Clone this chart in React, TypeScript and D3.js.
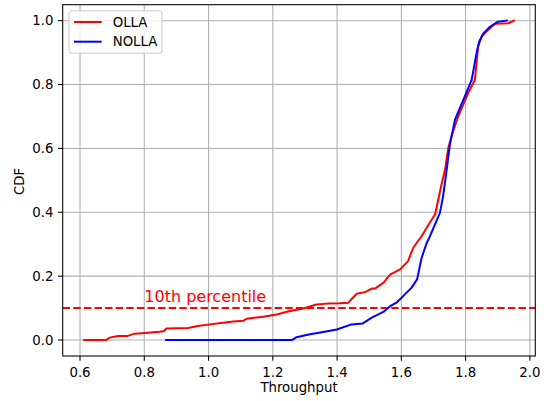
import React, { useEffect, useRef } from 'react';
import * as d3 from 'd3';

// OLLA curve (throughput, cdf)
const ollaThroughput = [0.613, 0.682, 0.692, 0.718, 0.749, 0.770, 0.801, 0.848, 0.862, 0.868, 0.936, 0.967, 1.004, 1.046, 1.077, 1.108, 1.119, 1.170, 1.212, 1.253, 1.295, 1.336, 1.370, 1.409, 1.435, 1.461, 1.487, 1.508, 1.518, 1.544, 1.565, 1.596, 1.621, 1.637, 1.663, 1.687, 1.705, 1.715, 1.725, 1.736, 1.746, 1.756, 1.777, 1.808, 1.829, 1.839, 1.850, 1.870, 1.891, 1.933, 1.950];
const ollaCdf = [0, 0, 0.0075, 0.0125, 0.013, 0.02, 0.022, 0.026, 0.028, 0.036, 0.038, 0.044, 0.049, 0.054, 0.058, 0.06, 0.067, 0.073, 0.08, 0.091, 0.099, 0.111, 0.114, 0.115, 0.117, 0.145, 0.15, 0.161, 0.161, 0.179, 0.205, 0.221, 0.247, 0.289, 0.325, 0.365, 0.393, 0.44, 0.487, 0.533, 0.601, 0.638, 0.70, 0.773, 0.815, 0.919, 0.95, 0.971, 0.99, 0.992, 1.0];

// NOLLA curve
const nollaThroughput = [0.868, 1.259, 1.274, 1.316, 1.357, 1.399, 1.445, 1.48, 1.508, 1.544, 1.565, 1.585, 1.611, 1.632, 1.649, 1.663, 1.679, 1.689, 1.72, 1.730, 1.741, 1.751, 1.767, 1.793, 1.819, 1.834, 1.842, 1.855, 1.876, 1.901, 1.928];
const nollaCdf = [0, 0, 0.009, 0.018, 0.025, 0.033, 0.049, 0.052, 0.07, 0.088, 0.106, 0.117, 0.143, 0.164, 0.19, 0.257, 0.304, 0.325, 0.398, 0.45, 0.533, 0.611, 0.69, 0.752, 0.815, 0.898, 0.934, 0.96, 0.981, 0.997, 1.0];

const xTicks = [0.6, 0.8, 1.0, 1.2, 1.4, 1.6, 1.8, 2.0];
const yTicks = [0.0, 0.2, 0.4, 0.6, 0.8, 1.0];
const series = [
  { name: 'OLLA', color: '#ff0000', xs: ollaThroughput, ys: ollaCdf },
  { name: 'NOLLA', color: '#0000ff', xs: nollaThroughput, ys: nollaCdf },
];
const percentileLevel = 0.1;

const W = 550;
const H = 401;
const margin = { left: 62.7, right: 535.3, top: 4.7, bottom: 356 };
const FONT = 'DejaVu Sans, sans-serif';

const App: React.FC = () => {
  const svgRef = useRef<SVGSVGElement>(null);

  useEffect(() => {
    if (!svgRef.current) return;
    const svg = d3.select(svgRef.current);
    svg.selectAll('*').remove();

    const x = d3.scaleLinear().domain([0.5461, 2.0169]).range([margin.left, margin.right]);
    const y = d3.scaleLinear().domain([-0.05, 1.05]).range([margin.bottom, margin.top]);

    svg.append('rect').attr('width', W).attr('height', H).attr('fill', '#fff');

    // grid
    const grid = svg.append('g').attr('stroke', '#b0b0b0').attr('stroke-width', 1.07);
    xTicks.forEach(t => {
      grid.append('line').attr('x1', x(t)).attr('x2', x(t)).attr('y1', margin.top).attr('y2', margin.bottom);
    });
    yTicks.forEach(t => {
      grid.append('line').attr('y1', y(t)).attr('y2', y(t)).attr('x1', margin.left).attr('x2', margin.right);
    });

    // 10th percentile line
    svg.append('line')
      .attr('x1', margin.left).attr('x2', margin.right)
      .attr('y1', y(percentileLevel)).attr('y2', y(percentileLevel))
      .attr('stroke', '#ff0000').attr('stroke-width', 2)
      .attr('stroke-dasharray', '7.4,3.2');

    svg.append('text')
      .attr('x', x(0.8)).attr('y', y(0.12))
      .attr('fill', '#ff0000')
      .style('font', `16px ${FONT}`)
      .text('10th percentile');

    const line = d3.line<[number, number]>().x(d => x(d[0])).y(d => y(d[1]));
    series.forEach(s => {
      const pts: [number, number][] = s.xs.map((v, i) => [v, s.ys[i]]);
      svg.append('path')
        .attr('d', line(pts) || '')
        .attr('fill', 'none')
        .attr('stroke', s.color)
        .attr('stroke-width', 2)
        .attr('stroke-linejoin', 'round')
        .attr('stroke-linecap', 'square');
    });

    // spines
    svg.append('rect')
      .attr('x', margin.left).attr('y', margin.top)
      .attr('width', margin.right - margin.left).attr('height', margin.bottom - margin.top)
      .attr('fill', 'none').attr('stroke', '#000').attr('stroke-width', 1.07);

    // x axis ticks
    const xAx = svg.append('g');
    xTicks.forEach(t => {
      xAx.append('line').attr('x1', x(t)).attr('x2', x(t)).attr('y1', margin.bottom).attr('y2', margin.bottom + 4.67)
        .attr('stroke', '#000').attr('stroke-width', 1.07);
      xAx.append('text').attr('x', x(t)).attr('y', 376.7).attr('text-anchor', 'middle')
        .style('font', `13.3px ${FONT}`).text(t.toFixed(1));
    });
    const yAx = svg.append('g');
    yTicks.forEach(t => {
      yAx.append('line').attr('x1', margin.left - 4.67).attr('x2', margin.left).attr('y1', y(t)).attr('y2', y(t))
        .attr('stroke', '#000').attr('stroke-width', 1.07);
      yAx.append('text').attr('x', margin.left - 9.3).attr('y', y(t)).attr('dy', '0.36em').attr('text-anchor', 'end')
        .style('font', `13.3px ${FONT}`).text(t.toFixed(1));
    });

    svg.append('text')
      .attr('x', (margin.left + margin.right) / 2).attr('y', 392)
      .attr('text-anchor', 'middle').style('font', `13.3px ${FONT}`).text('Throughput');
    svg.append('text')
      .attr('transform', `translate(24,181.5) rotate(-90)`)
      .attr('text-anchor', 'middle').style('font', `13.3px ${FONT}`).text('CDF');

    // legend
    const lg = svg.append('g');
    lg.append('rect').attr('x', 69).attr('y', 10.7).attr('width', 93).attr('height', 42.6)
      .attr('rx', 3).attr('fill', '#fff').attr('fill-opacity', 0.8)
      .attr('stroke', '#cccccc').attr('stroke-width', 1.07);
    series.forEach((s, i) => {
      const ly = 22 + i * 19.7;
      lg.append('line').attr('x1', 74).attr('x2', 101.7).attr('y1', ly).attr('y2', ly)
        .attr('stroke', s.color).attr('stroke-width', 2);
      lg.append('text').attr('x', 112.7).attr('y', ly).attr('dy', '0.36em')
        .style('font', `13.3px ${FONT}`).text(s.name);
    });
  }, []);

  return (
    <svg ref={svgRef} width={W} height={H} style={{ position: 'absolute', left: 0, top: 0 }} />
  );
};

export default App;
